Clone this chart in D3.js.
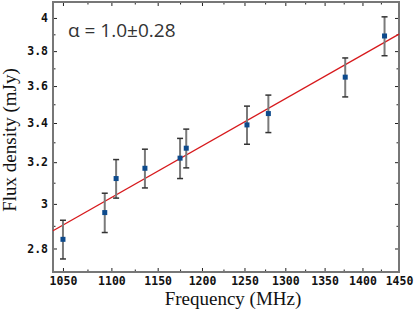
<!DOCTYPE html>
<html>
<head>
<meta charset="utf-8">
<script src="https://cdn.jsdelivr.net/npm/d3@7"></script>
<style>
  body { margin: 0; background: #fff; }
  svg { display: block; }
</style>
</head>
<body>
<div id="chart"></div>
<script>
// measured points (frequency in MHz, flux in mJy, 1-sigma error)
let freq = [1050, 1093, 1105, 1136, 1175, 1182, 1253, 1279, 1377, 1430];
let flux = [2.84, 2.96, 3.12, 3.17, 3.22, 3.27, 3.39, 3.45, 3.65, 3.89];
let fluxErr = [0.085, 0.09, 0.093, 0.095, 0.10, 0.098, 0.10, 0.10, 0.11, 0.117];

// power-law fit, drawn between the axis ends
let fitFreq = [1040, 1450];
let fitFlux = [2.878, 3.901];

let xTicks = [1050, 1100, 1150, 1200, 1250, 1300, 1350, 1400, 1450];
let xMinor = [1075, 1125, 1175, 1225, 1275, 1325, 1375, 1425];
let yTicks = [2.8, 3.0, 3.2, 3.4, 3.6, 3.8, 4.0];
let yMinor = [2.9, 3.1, 3.3, 3.5, 3.7, 3.9];

let fitLabel = "α = 1.0±0.28";

let width = 415, height = 311;
let m = { left: 53, right: 399, top: 2, bottom: 272 };

let svg = d3.select("#chart")
	.append("svg")
	.attr("width", width)
	.attr("height", height);

let x = d3.scaleLog().domain([1040, 1450]).range([m.left, m.right]);
let y = d3.scaleLog().domain([2.7, 4.1]).range([m.bottom, m.top]);

let tickFont = "bold 11.5px 'DejaVu Sans Mono', monospace";

function fmtY(d) { return d === 3 ? "3" : d === 4 ? "4" : d3.format(".1f")(d); }

// bottom axis
let gx = svg.append("g").attr("transform", "translate(0," + m.bottom + ")")
	.call(d3.axisBottom(x).tickValues(xTicks).tickFormat(d3.format("d")).tickSizeInner(-4).tickSizeOuter(0).tickPadding(5));
gx.append("g").call(d3.axisBottom(x).tickValues(xMinor).tickFormat("").tickSizeInner(-2.5).tickSizeOuter(0));
// top axis
let gxt = svg.append("g").attr("transform", "translate(0," + m.top + ")");
gxt.call(d3.axisTop(x).tickValues(xTicks).tickFormat("").tickSizeInner(-4).tickSizeOuter(0));
gxt.append("g").call(d3.axisTop(x).tickValues(xMinor).tickFormat("").tickSizeInner(-2.5).tickSizeOuter(0));

// left axis
let gy = svg.append("g").attr("transform", "translate(" + m.left + ",0)")
	.call(d3.axisLeft(y).tickValues(yTicks).tickFormat(fmtY).tickSizeInner(-4).tickSizeOuter(0).tickPadding(5));
gy.append("g").call(d3.axisLeft(y).tickValues(yMinor).tickFormat("").tickSizeInner(-2.5).tickSizeOuter(0));
// right axis
let gyr = svg.append("g").attr("transform", "translate(" + m.right + ",0)");
gyr.call(d3.axisRight(y).tickValues(yTicks).tickFormat("").tickSizeInner(-4).tickSizeOuter(0));
gyr.append("g").call(d3.axisRight(y).tickValues(yMinor).tickFormat("").tickSizeInner(-2.5).tickSizeOuter(0));

svg.selectAll(".domain").remove();
svg.selectAll(".tick line").attr("stroke", "#222").attr("stroke-width", 1);
svg.selectAll(".tick text").style("font", tickFont).attr("fill", "#111");

// frame
svg.append("rect")
	.attr("x", m.left).attr("y", m.top)
	.attr("width", m.right - m.left).attr("height", m.bottom - m.top)
	.attr("fill", "none")
	.attr("stroke", "#777")
	.attr("stroke-width", 2);

// fit line
svg.append("line")
	.attr("x1", x(fitFreq[0])).attr("y1", y(fitFlux[0]))
	.attr("x2", x(fitFreq[1])).attr("y2", y(fitFlux[1]))
	.attr("stroke", "#d7191c")
	.attr("stroke-width", 1.3);

let pts = freq.map(function (f, i) { return { f: f, v: flux[i], e: fluxErr[i] }; });

let bars = svg.append("g").selectAll("g").data(pts).enter().append("g");
bars.append("line")
	.attr("x1", function (d) { return x(d.f); })
	.attr("x2", function (d) { return x(d.f); })
	.attr("y1", function (d) { return y(d.v - d.e); })
	.attr("y2", function (d) { return y(d.v + d.e); })
	.attr("stroke", "#7a7a7a")
	.attr("stroke-width", 2);
[-1, 1].forEach(function (s) {
	bars.append("line")
		.attr("x1", function (d) { return x(d.f) - 3; })
		.attr("x2", function (d) { return x(d.f) + 3; })
		.attr("y1", function (d) { return y(d.v + s * d.e); })
		.attr("y2", function (d) { return y(d.v + s * d.e); })
		.attr("stroke", "#333")
		.attr("stroke-width", 1.5);
});
bars.append("rect")
	.attr("x", function (d) { return x(d.f) - 2.5; })
	.attr("y", function (d) { return y(d.v) - 2.5; })
	.attr("width", 5)
	.attr("height", 5)
	.attr("fill", "#0d4a8c");

// annotation
svg.append("text")
	.attr("x", 68).attr("y", 37)
	.style("font", "19px 'Open Sans', sans-serif")
	.attr("fill", "#333")
	.text(fitLabel);

// axis titles
svg.append("text")
	.attr("x", (m.left + m.right) / 2 + 7).attr("y", 305)
	.attr("text-anchor", "middle")
	.style("font", "19px 'Liberation Serif', serif")
	.attr("fill", "#111")
	.text("Frequency (MHz)");

svg.append("text")
	.attr("transform", "translate(16,140) rotate(-90)")
	.attr("text-anchor", "middle")
	.style("font", "19px 'Liberation Serif', serif")
	.attr("fill", "#111")
	.text("Flux density (mJy)");
</script>
</body>
</html>
